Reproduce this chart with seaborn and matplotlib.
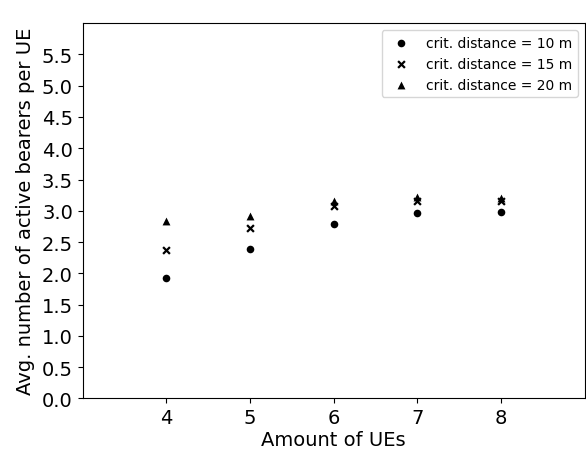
import matplotlib
matplotlib.use("Agg")
import matplotlib.pyplot as plt
import seaborn as sns
import pandas as pd

ues = [4, 5, 6, 7, 8]
d10 = [1.93, 2.39, 2.79, 2.96, 2.98]
d15 = [2.37, 2.72, 3.07, 3.15, 3.15]
d20 = [2.83, 2.91, 3.15, 3.22, 3.21]
labels = ["crit. distance = 10 m", "crit. distance = 15 m", "crit. distance = 20 m"]
yticks = [0.0, 0.5, 1.0, 1.5, 2.0, 2.5, 3.0, 3.5, 4.0, 4.5, 5.0, 5.5]

sns.set_style("ticks")
plt.rcParams['font.family'] = ['DejaVu Sans']
plt.rcParams['text.color'] = 'black'
plt.rcParams['axes.labelcolor'] = 'black'
plt.rcParams['xtick.color'] = 'black'
plt.rcParams['ytick.color'] = 'black'

fig = plt.figure(figsize=(5.86, 4.56), dpi=100)
ax = fig.add_axes([0.141, 0.124, 0.857, 0.823])
styles = [("o", 30, 0), ("x", 24, 1.6), ("^", 32, 0)]
for lab, vals, (mk, s, lw) in zip(labels, [d10, d15, d20], styles):
    df = pd.DataFrame({"UEs": ues, "val": vals})
    sns.scatterplot(data=df, x="UEs", y="val", marker=mk, s=s, color="black",
                    linewidth=lw, label=lab, ax=ax)
ax.set_xlim(3, 9)
ax.set_ylim(0, 6)
ax.set_xticks(ues)
ax.set_yticks(yticks)
ax.set_yticklabels([f"{t:.1f}" for t in yticks])
ax.tick_params(labelsize=14, colors="black")
ax.set_xlabel("Amount of UEs", fontsize=14, labelpad=2)
ax.set_ylabel("Avg. number of active bearers per UE", fontsize=14, labelpad=5)
leg = ax.legend(loc="upper right", fontsize=10, frameon=True, handletextpad=0.8)
for sp in ax.spines.values():
    sp.set_visible(True)
    sp.set_color("black")
    sp.set_linewidth(0.8)
fig.savefig("out.png", dpi=100)
